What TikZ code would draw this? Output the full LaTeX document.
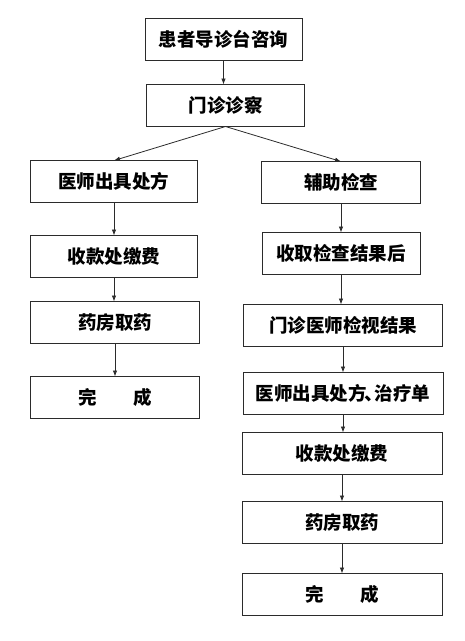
\documentclass[tikz,border=0pt]{standalone}
\usepackage{fontspec}
\usepackage{tikz}
\usetikzlibrary{positioning,arrows.meta}
\newfontfamily\cjk{Noto Sans CJK SC}
\definecolor{boxline}{HTML}{2B2B2B}
\definecolor{arrowline}{HTML}{2B2B2B}

\begin{document}
\begin{tikzpicture}[
  x=1pt, y=1pt,
  box/.style={rectangle, draw=boxline, line width=0.9pt, minimum height=42pt,
    inner sep=0pt, outer sep=0pt, font=\cjk\bfseries\fontsize{18.5}{20}\selectfont},
  arr/.style={-{Latex[length=6pt,width=4.5pt]}, line width=0.8pt, color=arrowline}
]
  \useasboundingbox (0,0) rectangle (465,-641);

  % 上部
  \node[box, minimum width=157pt] (consult) at (223.5,-39.5) {患者导诊台咨询};
  \node[box, minimum width=158pt, below=24pt of consult, xshift=2pt] (exam) {门诊诊察};

  % 左列
  \node[box, minimum width=167pt] (presc) at (114,-181.5) {医师出具处方};
  \node[box, minimum width=167pt, below=33pt of presc] (payL) {收款处缴费};
  \node[box, minimum width=169pt, below=24pt of payL, xshift=1pt] (drugL) {药房取药};
  \node[box, minimum width=169pt, below=33pt of drugL] (doneL) {完\hspace{2em}成};

  % 右列
  \node[box, minimum width=159pt] (aux) at (341,-182.5) {辅助检查};
  \node[box, minimum width=158pt, below=29pt of aux] (result) {收取检查结果后};
  \node[box, minimum width=199pt, below=30pt of result, xshift=2pt] (review) {门诊医师检视结果};
  \node[box, minimum width=200pt, below=26pt of review] (rx) {医师出具处方\kern-0.1em、\kern-0.45em治疗单};
  \node[box, minimum width=200pt, below=18pt of rx, xshift=-1pt] (payR) {收款处缴费};
  \node[box, minimum width=200pt, below=27pt of payR] (drugR) {药房取药};
  \node[box, minimum width=200pt, below=30pt of drugR] (doneR) {完\hspace{2em}成};

  % 矢印
  \draw[arr] (consult) -- (consult.south |- exam.north);
  \draw[arr] (exam.south) -- (presc.north);
  \draw[arr] (exam.south) -- (aux.north);
  \draw[arr] (presc) -- (payL);
  \draw[arr] (payL) -- (payL.south |- drugL.north);
  \draw[arr] (drugL) -- (doneL);
  \draw[arr] (aux) -- (result);
  \draw[arr] (result) -- (result.south |- review.north);
  \draw[arr] (review) -- (rx);
  \draw[arr] (rx) -- (rx.south |- payR.north);
  \draw[arr] (payR) -- (drugR);
  \draw[arr] (drugR) -- (doneR);
\end{tikzpicture}
\end{document}
